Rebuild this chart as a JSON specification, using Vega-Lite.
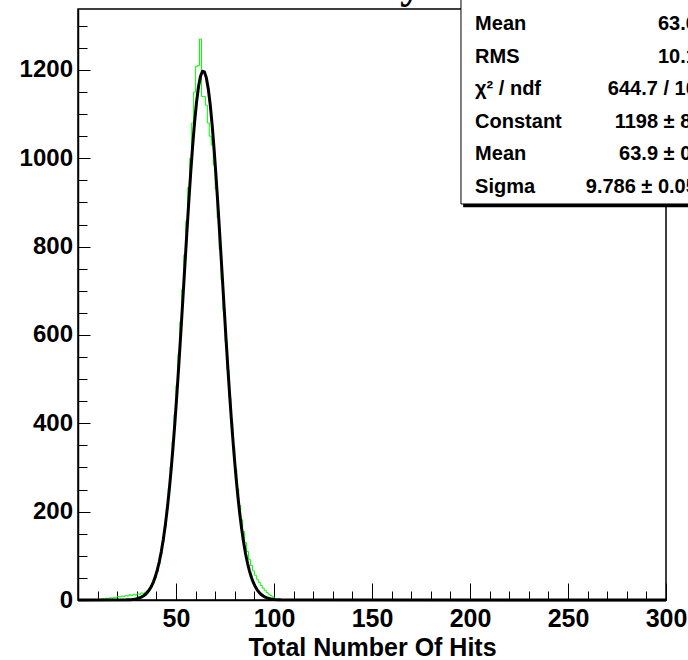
{
  "$schema": "https://vega.github.io/schema/vega-lite/v6.json",
  "width": 588,
  "height": 591,
  "autosize": {"type": "none"},
  "padding": {"left": 78, "top": 9, "right": 22, "bottom": 60},
  "background": "white",
  "config": {
    "view": {"stroke": "black", "strokeWidth": 1.5},
    "axis": {
      "grid": false,
      "domainColor": "black",
      "domainWidth": 1.5,
      "tickColor": "black",
      "tickWidth": 1,
      "labelFont": "Liberation Sans",
      "labelFontWeight": "bold",
      "labelColor": "black",
      "titleFont": "Liberation Sans",
      "titleFontWeight": "bold",
      "titleColor": "black",
      "labelOverlap": false,
      "labelFlush": false
    }
  },
  "datasets": {
    "hist": [
      {"hits": 0, "entries": 0},
      {"hits": 10, "entries": 2}, {"hits": 11, "entries": 1}, {"hits": 12, "entries": 3}, {"hits": 13, "entries": 2},
      {"hits": 14, "entries": 4}, {"hits": 15, "entries": 3}, {"hits": 16, "entries": 5}, {"hits": 17, "entries": 4},
      {"hits": 18, "entries": 6}, {"hits": 19, "entries": 6}, {"hits": 20, "entries": 8}, {"hits": 21, "entries": 7},
      {"hits": 22, "entries": 9}, {"hits": 23, "entries": 8}, {"hits": 24, "entries": 10}, {"hits": 25, "entries": 9},
      {"hits": 26, "entries": 12}, {"hits": 27, "entries": 10}, {"hits": 28, "entries": 13}, {"hits": 29, "entries": 11},
      {"hits": 30, "entries": 14}, {"hits": 31, "entries": 13}, {"hits": 32, "entries": 16}, {"hits": 33, "entries": 15},
      {"hits": 34, "entries": 18}, {"hits": 35, "entries": 21}, {"hits": 36, "entries": 25}, {"hits": 37, "entries": 31},
      {"hits": 38, "entries": 39}, {"hits": 39, "entries": 50}, {"hits": 40, "entries": 64}, {"hits": 41, "entries": 82},
      {"hits": 42, "entries": 104}, {"hits": 43, "entries": 132}, {"hits": 44, "entries": 166}, {"hits": 45, "entries": 206},
      {"hits": 46, "entries": 252}, {"hits": 47, "entries": 302}, {"hits": 48, "entries": 358}, {"hits": 49, "entries": 420},
      {"hits": 50, "entries": 486}, {"hits": 51, "entries": 556}, {"hits": 52, "entries": 630}, {"hits": 53, "entries": 704},
      {"hits": 54, "entries": 782}, {"hits": 55, "entries": 858}, {"hits": 56, "entries": 934}, {"hits": 57, "entries": 1000},
      {"hits": 58, "entries": 1080}, {"hits": 59, "entries": 1150}, {"hits": 60, "entries": 1208}, {"hits": 61, "entries": 1210},
      {"hits": 62, "entries": 1270}, {"hits": 63, "entries": 1140}, {"hits": 64, "entries": 1140}, {"hits": 65, "entries": 1120},
      {"hits": 66, "entries": 1080}, {"hits": 67, "entries": 1050}, {"hits": 68, "entries": 1030}, {"hits": 69, "entries": 985},
      {"hits": 70, "entries": 930}, {"hits": 71, "entries": 865}, {"hits": 72, "entries": 795}, {"hits": 73, "entries": 725},
      {"hits": 74, "entries": 655}, {"hits": 75, "entries": 585}, {"hits": 76, "entries": 520}, {"hits": 77, "entries": 458},
      {"hits": 78, "entries": 400}, {"hits": 79, "entries": 346}, {"hits": 80, "entries": 296}, {"hits": 81, "entries": 252},
      {"hits": 82, "entries": 214}, {"hits": 83, "entries": 182}, {"hits": 84, "entries": 155}, {"hits": 85, "entries": 130},
      {"hits": 86, "entries": 110}, {"hits": 87, "entries": 92}, {"hits": 88, "entries": 78}, {"hits": 89, "entries": 66},
      {"hits": 90, "entries": 56}, {"hits": 91, "entries": 47}, {"hits": 92, "entries": 40}, {"hits": 93, "entries": 33},
      {"hits": 94, "entries": 27}, {"hits": 95, "entries": 22}, {"hits": 96, "entries": 17}, {"hits": 97, "entries": 13},
      {"hits": 98, "entries": 10}, {"hits": 99, "entries": 7}, {"hits": 100, "entries": 0},
      {"hits": 300, "entries": 0}
    ],
    "fit": [
      {"hits": 0, "gaus": 0},
      {"hits": 24.5, "gaus": 0.3}, {"hits": 25.5, "gaus": 0.5}, {"hits": 26.5, "gaus": 0.8}, {"hits": 27.5, "gaus": 1.2},
      {"hits": 28.5, "gaus": 1.7}, {"hits": 29.5, "gaus": 2.5}, {"hits": 30.5, "gaus": 3.5}, {"hits": 31.5, "gaus": 5.0},
      {"hits": 32.5, "gaus": 7.0}, {"hits": 33.5, "gaus": 9.6}, {"hits": 34.5, "gaus": 13.1}, {"hits": 35.5, "gaus": 17.8},
      {"hits": 36.5, "gaus": 23.8}, {"hits": 37.5, "gaus": 31.4}, {"hits": 38.5, "gaus": 41.2}, {"hits": 39.5, "gaus": 53.5},
      {"hits": 40.5, "gaus": 68.7}, {"hits": 41.5, "gaus": 87.2}, {"hits": 42.5, "gaus": 109.7}, {"hits": 43.5, "gaus": 136.4},
      {"hits": 44.5, "gaus": 167.8}, {"hits": 45.5, "gaus": 204.5}, {"hits": 46.5, "gaus": 246.6}, {"hits": 47.5, "gaus": 294.0},
      {"hits": 48.5, "gaus": 347.1}, {"hits": 49.5, "gaus": 405.6}, {"hits": 50.5, "gaus": 469.0}, {"hits": 51.5, "gaus": 536.7},
      {"hits": 52.5, "gaus": 607.9}, {"hits": 53.5, "gaus": 681.1}, {"hits": 54.5, "gaus": 755.2}, {"hits": 55.5, "gaus": 828.8},
      {"hits": 56.5, "gaus": 900.1}, {"hits": 57.5, "gaus": 967.3}, {"hits": 58.5, "gaus": 1028.8}, {"hits": 59.5, "gaus": 1082.7},
      {"hits": 60.5, "gaus": 1127.8}, {"hits": 61.5, "gaus": 1162.6}, {"hits": 62.5, "gaus": 1185.8}, {"hits": 63.5, "gaus": 1197.0},
      {"hits": 64.5, "gaus": 1195.7}, {"hits": 65.5, "gaus": 1182.0}, {"hits": 66.5, "gaus": 1156.4}, {"hits": 67.5, "gaus": 1119.7},
      {"hits": 68.5, "gaus": 1072.7}, {"hits": 69.5, "gaus": 1017.0}, {"hits": 70.5, "gaus": 954.2}, {"hits": 71.5, "gaus": 886.0},
      {"hits": 72.5, "gaus": 814.2}, {"hits": 73.5, "gaus": 740.4}, {"hits": 74.5, "gaus": 666.3}, {"hits": 75.5, "gaus": 593.4},
      {"hits": 76.5, "gaus": 522.9}, {"hits": 77.5, "gaus": 456.1}, {"hits": 78.5, "gaus": 393.6}, {"hits": 79.5, "gaus": 336.2},
      {"hits": 80.5, "gaus": 284.2}, {"hits": 81.5, "gaus": 237.7}, {"hits": 82.5, "gaus": 196.7}, {"hits": 83.5, "gaus": 161.1},
      {"hits": 84.5, "gaus": 130.7}, {"hits": 85.5, "gaus": 104.8}, {"hits": 86.5, "gaus": 83.2}, {"hits": 87.5, "gaus": 65.4},
      {"hits": 88.5, "gaus": 50.8}, {"hits": 89.5, "gaus": 39.1}, {"hits": 90.5, "gaus": 29.8}, {"hits": 91.5, "gaus": 22.4},
      {"hits": 92.5, "gaus": 16.7}, {"hits": 93.5, "gaus": 12.3}, {"hits": 94.5, "gaus": 9.0}, {"hits": 95.5, "gaus": 6.5},
      {"hits": 96.5, "gaus": 4.7}, {"hits": 97.5, "gaus": 3.3}, {"hits": 98.5, "gaus": 2.3}, {"hits": 99.5, "gaus": 1.6},
      {"hits": 100.5, "gaus": 1.1}, {"hits": 101.5, "gaus": 0.7}, {"hits": 102.5, "gaus": 0.5}, {"hits": 103.5, "gaus": 0.3},
      {"hits": 300, "gaus": 0}
    ],
    "stats": [
      {"row": 1, "stat": "Mean", "value": "63.62"},
      {"row": 2, "stat": "RMS", "value": "10.17"},
      {"row": 3, "stat": "χ² / ndf", "value": "644.7 / 107"},
      {"row": 4, "stat": "Constant", "value": "1198 ± 8.6"},
      {"row": 5, "stat": "Mean", "value": "63.9 ± 0.1"},
      {"row": 6, "stat": "Sigma", "value": "9.786 ± 0.057"}
    ]
  },
  "layer": [
    {
      "data": {"name": "hist"},
      "mark": {"type": "line", "interpolate": "step-after", "color": "#00ff00", "strokeWidth": 1},
      "encoding": {
        "x": {
          "field": "hits", "type": "quantitative",
          "scale": {"domain": [0, 300], "nice": false, "zero": false},
          "axis": {
            "orient": "bottom",
            "values": [50, 100, 150, 200, 250, 300],
            "tickSize": -17,
            "labelPadding": 23,
            "labelFontSize": 25,
            "format": "d",
            "title": "Total Number Of Hits",
            "titleFontSize": 25,
            "titlePadding": 4
          }
        },
        "y": {
          "field": "entries", "type": "quantitative",
          "scale": {"domain": [0, 1338], "nice": false},
          "axis": {
            "orient": "left",
            "values": [0, 200, 400, 600, 800, 1000, 1200],
            "tickSize": -12,
            "labelPadding": 17.5,
            "labelFontSize": 24,
            "format": "d",
            "title": null
          }
        }
      }
    },
    {
      "data": {"name": "fit"},
      "mark": {"type": "line", "color": "black", "strokeWidth": 3, "strokeJoin": "round"},
      "encoding": {
        "x": {
          "field": "hits", "type": "quantitative",
          "scale": {"domain": [0, 300], "nice": false, "zero": false},
          "axis": {
            "orient": "bottom",
            "values": [10, 20, 30, 40, 60, 70, 80, 90, 110, 120, 130, 140, 160, 170, 180, 190, 210, 220, 230, 240, 260, 270, 280, 290],
            "tickSize": -9,
            "labels": false,
            "domain": false,
            "title": null
          }
        },
        "y": {
          "field": "gaus", "type": "quantitative",
          "scale": {"domain": [0, 1338], "nice": false},
          "axis": {
            "orient": "left",
            "values": [50, 100, 150, 250, 300, 350, 450, 500, 550, 650, 700, 750, 850, 900, 950, 1050, 1100, 1150, 1250, 1300],
            "tickSize": -9,
            "labels": false,
            "domain": false,
            "title": null
          }
        }
      }
    },
    {
      "data": {"values": [{"title": "Hit Summary"}]},
      "mark": {"type": "text", "align": "right", "baseline": "alphabetic", "font": "Liberation Serif", "fontWeight": "bold", "fontSize": 44, "color": "black"},
      "encoding": {
        "x": {"datum": 175.5, "type": "quantitative", "scale": {"domain": [0, 300], "nice": false, "zero": false}, "axis": null},
        "y": {"datum": 1363, "type": "quantitative", "scale": {"domain": [0, 1338], "nice": false}, "axis": null},
        "text": {"field": "title"}
      }
    },
    {
      "data": {"values": [{"box": "stats"}]},
      "mark": {"type": "rect", "color": "black"},
      "encoding": {
        "x": {"datum": 196.5, "type": "quantitative", "scale": {"domain": [0, 300], "nice": false, "zero": false}, "axis": null},
        "x2": {"datum": 330},
        "y": {"datum": 889, "type": "quantitative", "scale": {"domain": [0, 1338], "nice": false}, "axis": null},
        "y2": {"datum": 1360}
      }
    },
    {
      "data": {"values": [{"box": "stats"}]},
      "mark": {"type": "rect", "fill": "white", "stroke": "black", "strokeWidth": 1},
      "encoding": {
        "x": {"datum": 195.4, "type": "quantitative", "scale": {"domain": [0, 300], "nice": false, "zero": false}, "axis": null},
        "x2": {"datum": 330},
        "y": {"datum": 896.6, "type": "quantitative", "scale": {"domain": [0, 1338], "nice": false}, "axis": null},
        "y2": {"datum": 1370}
      }
    },
    {
      "data": {"name": "stats"},
      "mark": {"type": "text", "align": "left", "baseline": "middle", "font": "Liberation Sans", "fontWeight": "bold", "fontSize": 20, "color": "black"},
      "encoding": {
        "x": {"datum": 202.6, "type": "quantitative", "scale": {"domain": [0, 300], "nice": false, "zero": false}, "axis": null},
        "y": {"field": "row", "type": "ordinal", "scale": {"type": "point", "range": [15, 178], "padding": 0}, "axis": null},
        "text": {"field": "stat"}
      }
    },
    {
      "data": {"name": "stats"},
      "mark": {"type": "text", "align": "right", "baseline": "middle", "font": "Liberation Sans", "fontWeight": "bold", "fontSize": 20, "color": "black"},
      "encoding": {
        "x": {"datum": 321.4, "type": "quantitative", "scale": {"domain": [0, 300], "nice": false, "zero": false}, "axis": null},
        "y": {"field": "row", "type": "ordinal", "scale": {"type": "point", "range": [15, 178], "padding": 0}, "axis": null},
        "text": {"field": "value"}
      }
    }
  ],
  "resolve": {
    "scale": {"y": "independent"},
    "axis": {"x": "independent", "y": "independent"}
  }
}
